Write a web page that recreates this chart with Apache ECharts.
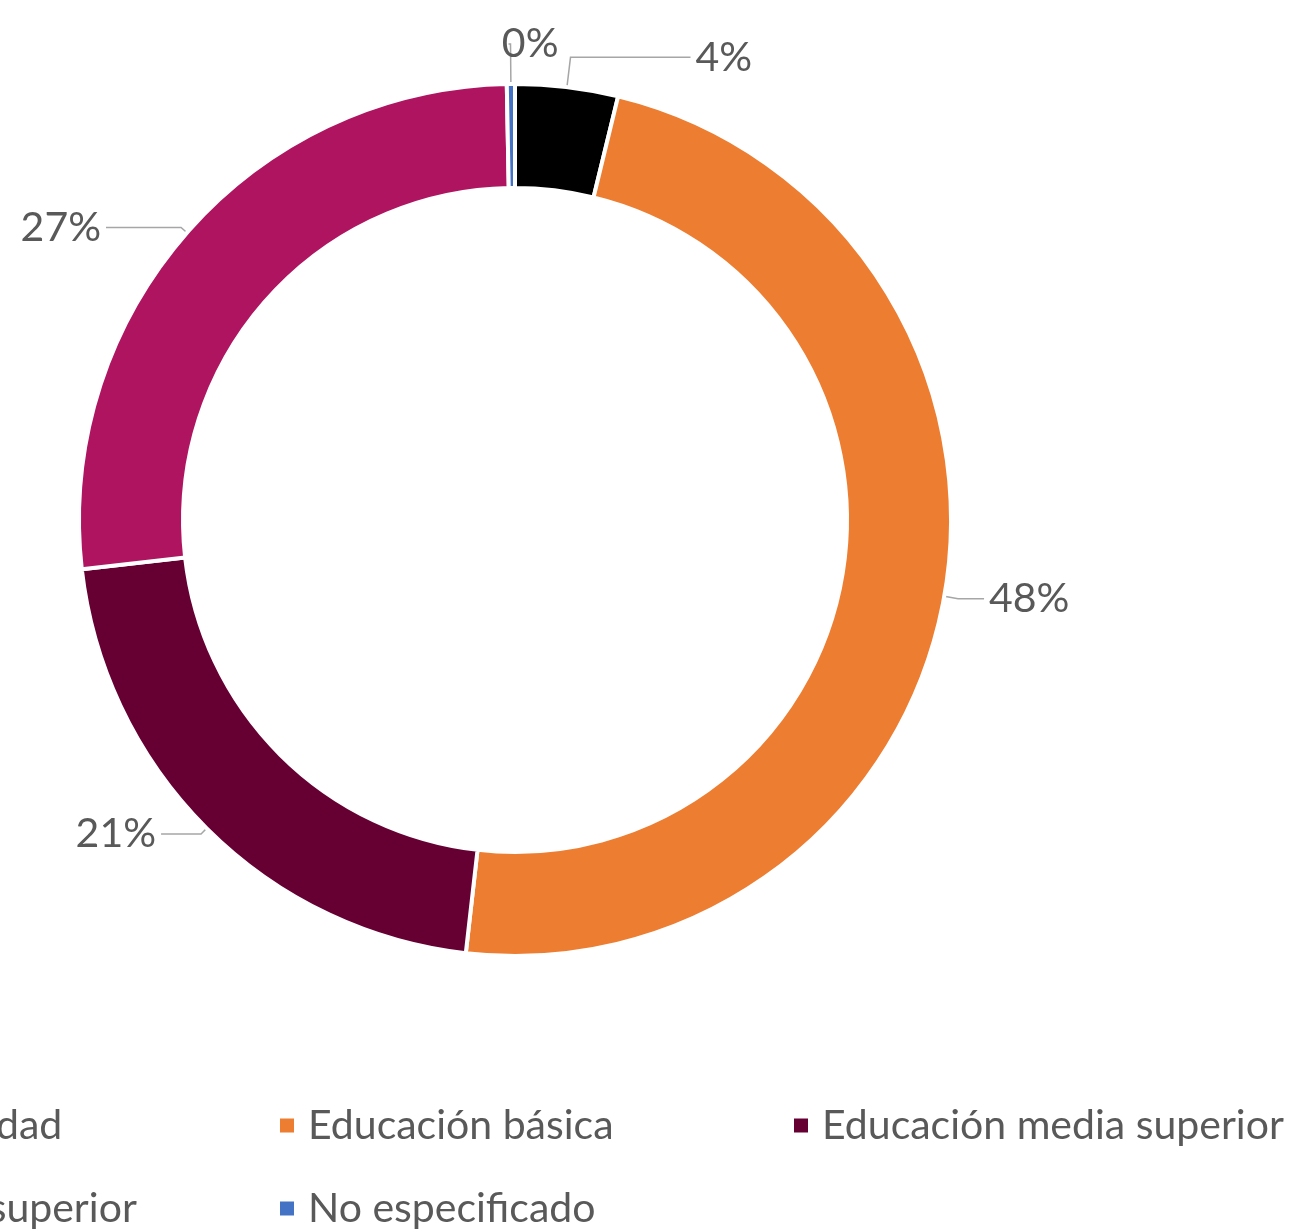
<!DOCTYPE html>
<html>
<head>
<meta charset="utf-8">
<script src="https://cdn.jsdelivr.net/npm/echarts@6/dist/echarts.min.js"></script>
<style>
html,body{margin:0;padding:0;background:#fff;}
#chart{width:1307px;height:1231px;}
</style>
</head>
<body>
<div id="chart"></div>
<script>
const categories = ['Sin escolaridad', 'Educación básica', 'Educación media superior', 'Educación superior', 'No especificado'];
const values = [3.8, 48.0, 21.4, 26.5, 0.3];
const colors = ['#000000', '#ED7D31', '#660033', '#AF1460', '#4472C4'];
// leader line lengths and label nudges per slice (style, not data)
const lineLen = [[30, 120], [14, 26], [8, 40], [8, 75], [40, 2]];
const labelNudge = [[0, 0], [0, 0], [0, 0], [0, 0], [55, 0]];

const chart = echarts.init(document.getElementById('chart'));
chart.setOption({
  animation: false,
  backgroundColor: '#ffffff',
  color: colors,
  legend: {
    data: categories,
    orient: 'horizontal',
    left: -241,
    top: 1094,
    width: 1560,
    itemWidth: 16,
    itemHeight: 16,
    itemGap: 30,
    icon: 'rect',
    formatter: '{a|{name}}',
    textStyle: {
      rich: {
        a: {
          width: 454,
          height: 53,
          lineHeight: 53,
          padding: [0, 0, 0, 8],
          fontSize: 41,
          fontFamily: 'Lato',
          color: '#595959'
        }
      }
    }
  },
  series: [{
    type: 'pie',
    center: [515, 520],
    radius: [332, 436],
    startAngle: 90,
    clockwise: true,
    avoidLabelOverlap: true,
    itemStyle: { borderColor: '#ffffff', borderWidth: 4 },
    label: {
      show: true,
      position: 'outside',
      formatter: (p) => Math.round(p.value) + '%',
      fontSize: 41,
      fontFamily: 'Lato',
      color: '#595959'
    },
    labelLine: {
      show: true,
      length: 12,
      length2: 28,
      lineStyle: { color: '#A6A6A6', width: 1.5 }
    },
    labelLayout: (p) => ({ dx: labelNudge[p.dataIndex][0], dy: labelNudge[p.dataIndex][1] }),
    data: categories.map((c, i) => ({
      name: c,
      value: values[i],
      labelLine: { length: lineLen[i][0], length2: lineLen[i][1] }
    }))
  }]
});
</script>
</body>
</html>
